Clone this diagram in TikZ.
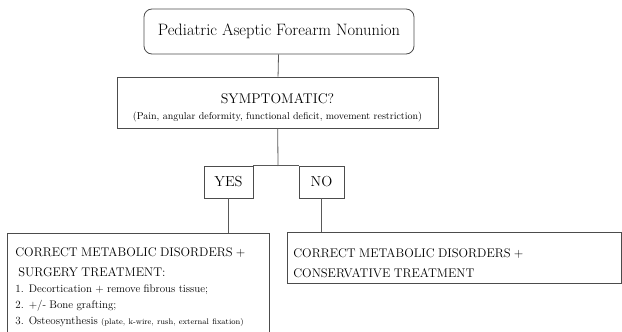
\documentclass[tikz,border=0pt]{standalone}
\usepackage{fontspec}
\begin{document}
\begin{tikzpicture}[x=1pt,y=-1pt,
  box/.style={draw=black!70,line width=0.8pt},
  link/.style={draw=black!65,line width=0.8pt}]
\useasboundingbox (0,0) rectangle (622,332);
% question boxes
\node[box,rounded corners=8pt,minimum width=270pt,minimum height=45pt,font=\fontsize{16.5}{19}\selectfont](title) at (279,31.5) {Pediatric Aseptic Forearm Nonunion};
\node[box,minimum width=321pt,minimum height=51pt,align=center,inner sep=0pt](sym) at (277.5,102.5)
  {{\fontsize{14}{17}\selectfont\rule{0pt}{19.5pt}SYMPTOMATIC?}\\[4pt]{\fontsize{10}{12}\selectfont (Pain, angular deformity, functional deficit, movement restriction)}};
\coordinate(split) at (278,166);
\node[box,minimum width=49pt,minimum height=32pt,font=\fontsize{14.5}{17}\selectfont](yes) at (228.5,182) {YES};
\node[box,minimum width=45pt,minimum height=32pt,font=\fontsize{14.5}{17}\selectfont](no) at (321.5,182) {NO};
% treatment boxes
\node[box,anchor=north west,align=left,text width=246pt,inner xsep=8pt,inner ysep=14.5pt](surgery) at (7,233)
  {{\fontsize{12.5}{20}\selectfont CORRECT METABOLIC DISORDERS +\\ \hspace*{3pt}SURGERY TREATMENT:\par}
   {\fontsize{11}{16}\selectfont 1. Decortication + remove fibrous tissue;\\ 2. +/- Bone grafting;\\
   3. Osteosynthesis {\fontsize{8}{16}\selectfont (plate, k-wire, rush, external fixation)}\par}};
\node[box,anchor=north west,align=left,text width=322pt,inner xsep=6pt,inner ysep=0pt,minimum height=51pt](conserv) at (287,232)
  {{\fontsize{12.5}{20}\selectfont\rule{0pt}{19pt}CORRECT METABOLIC DISORDERS +\\ CONSERVATIVE TREATMENT\par}};
% connectors
\draw[link](title)--(sym);
\draw[link](sym)--(split);
\draw[link](yes.north east)--(no.north west);
\draw[link](yes.south)--(yes.south |- surgery.north);
\draw[link](no.south)--(no.south |- conserv.north);
\end{tikzpicture}
\end{document}
